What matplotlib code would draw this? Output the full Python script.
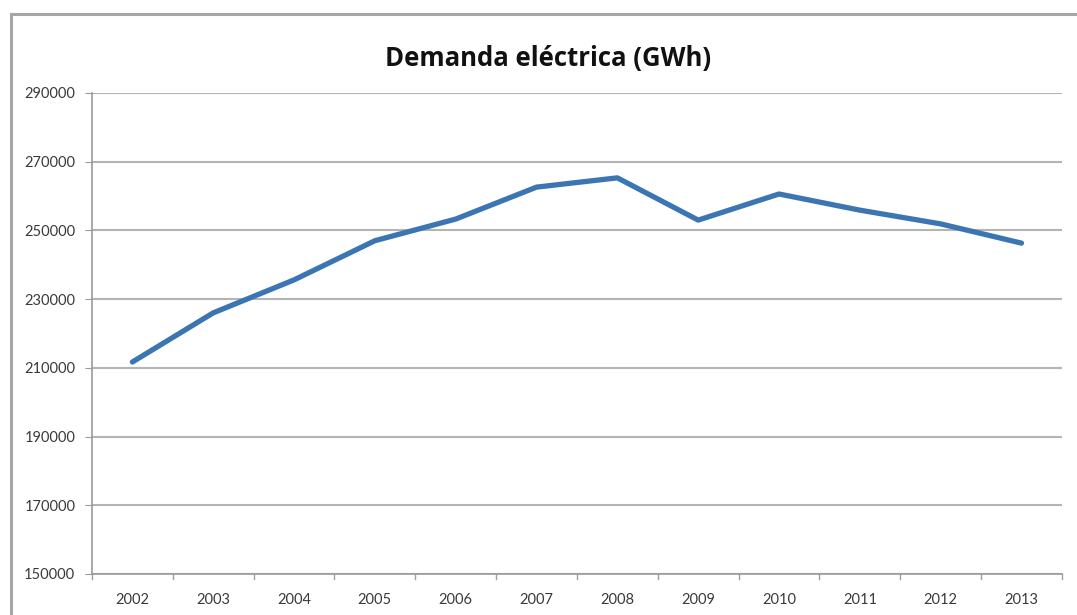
import matplotlib.pyplot as plt
from matplotlib.patches import Rectangle

# electricity demand per year, GWh
years = ['2002', '2003', '2004', '2005', '2006', '2007',
         '2008', '2009', '2010', '2011', '2012', '2013']
demand = [211700, 226000, 235600, 247000, 253300, 262600,
          265300, 253000, 260600, 255900, 251900, 246300]
yticks = [150000, 170000, 190000, 210000, 230000, 250000, 270000, 290000]

grid_col = '#b4b4b4'
line_col = '#3b76b3'

fig = plt.figure(figsize=(10.77, 6.15), dpi=100)
ax = fig.add_axes([0.0854, 0.0667, 0.9006, 0.7821])

# outer chart frame
fig.patches.append(Rectangle((11 / 1077, -0.05), 1.2, (615 - 14) / 615 + 0.05,
                             transform=fig.transFigure, fill=False,
                             edgecolor='#a6a6a6', linewidth=2.2))

x = range(len(years))
ax.plot(x, demand, color=line_col, linewidth=3.8, solid_joinstyle='round',
        solid_capstyle='round', zorder=3)

ax.set_xlim(-0.5, len(years) - 0.5)
ax.set_ylim(150000, 290000)
ax.set_yticks(yticks)
ax.set_yticklabels([str(v) for v in yticks])
ax.set_xticks(list(x))
ax.set_xticklabels(years)
ax.yaxis.grid(True, color=grid_col, linewidth=1.5)
ax.set_axisbelow(True)

for s in ['top', 'right']:
    ax.spines[s].set_visible(False)
for s in ['left', 'bottom']:
    ax.spines[s].set_color('#9a9a9a')
    ax.spines[s].set_linewidth(1.2)

ax.tick_params(axis='y', length=5, color='#9a9a9a', labelsize=10.5,
               labelcolor='#3a3a3a', pad=7)
ax.tick_params(axis='x', length=0, labelsize=10.5, labelcolor='#3a3a3a', pad=14)
# category boundary ticks on the x axis
for b in range(len(years) + 1):
    ax.plot([b - 0.5, b - 0.5], [150000, 148500], color='#a0a0a0',
            linewidth=1.0, clip_on=False)

for lab in ax.get_xticklabels() + ax.get_yticklabels():
    lab.set_family('Lato')

fig.text(0.509, 0.905, 'Demanda eléctrica (GWh)', ha='center', va='center',
         fontsize=18.5, fontweight='bold', family='Open Sans', color='#111111')

fig.savefig('out.png', dpi=100)
